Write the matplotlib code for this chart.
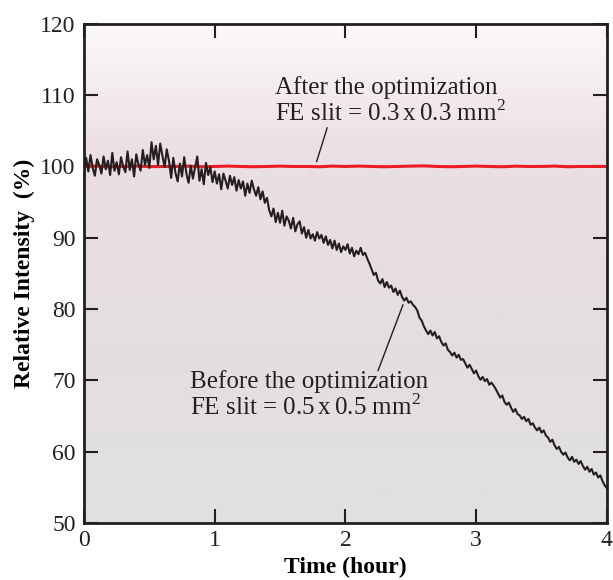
import numpy as np
import matplotlib.pyplot as plt
from matplotlib.colors import LinearSegmentedColormap

# black trace: before the optimization, one value per minute
before_vals = [
    98.4, 101.2, 99.3, 101.6, 99.8, 98.7, 101.0, 100.2, 99.0, 101.4,
    99.6, 100.8, 98.8, 101.9, 99.4, 100.6, 98.9, 101.3, 100.0, 99.2,
    102.1, 99.5, 101.0, 98.6, 101.7, 100.3, 99.4, 102.3, 100.2, 101.6,
    99.8, 103.4, 101.0, 102.9, 100.2, 103.2, 101.5, 99.9, 102.4, 100.8,
    98.4, 101.2, 99.1, 97.9, 100.4, 98.6, 101.3, 99.0, 97.7, 100.1,
    98.3, 99.9, 101.4, 98.0, 99.6, 97.5, 100.5, 98.8, 99.9, 97.8,
    99.3, 97.6, 98.9, 96.8, 99.0, 98.0, 96.9, 98.7, 97.4, 98.5,
    96.6, 98.1, 96.9, 97.9, 95.9, 97.6, 96.3, 98.0, 96.8, 95.9,
    97.1, 95.4, 96.5, 94.9, 95.6, 93.9, 93.0, 94.1, 92.2, 93.5,
    92.1, 93.8, 91.7, 93.0, 92.4, 91.3, 92.8, 90.9, 91.9, 92.3,
    90.6, 91.5, 90.0, 91.1, 89.9, 90.5, 89.6, 90.8, 89.9, 90.4,
    89.3, 90.2, 89.0, 89.7, 88.5, 89.6, 88.3, 89.2, 88.0, 88.8,
    88.3, 89.1, 87.8, 88.6, 87.4, 88.2, 87.7, 88.6, 87.6, 87.9,
    87.1, 86.4, 85.6, 84.8, 85.1, 84.0, 83.6, 84.2, 83.1, 83.8,
    83.0, 83.3, 82.4, 82.9, 82.0, 82.6, 81.7, 81.2, 81.6, 80.9,
    81.1, 80.6, 80.3, 79.8, 78.8, 78.4, 77.6, 77.0, 76.5, 77.0,
    76.3, 76.8, 75.9, 76.2, 75.4, 74.9, 75.2, 74.3, 74.0, 73.5,
    73.9, 73.2, 73.6, 72.9, 73.0, 72.4, 71.8, 72.2, 71.6, 71.0,
    71.4, 70.6, 70.1, 70.5, 69.9, 70.2, 69.4, 69.7, 69.3, 68.8,
    68.2, 67.6, 67.9, 67.0, 66.6, 66.9, 66.2, 65.6, 66.0, 65.3,
    65.1, 64.6, 64.9, 64.3, 64.6, 63.8, 64.0, 63.4, 63.0, 63.4,
    62.7, 63.0, 62.3, 62.0, 61.4, 61.7, 60.9, 60.4, 60.7, 60.0,
    59.6, 59.9, 59.2, 58.8, 59.3, 58.6, 58.9, 58.3, 58.7, 58.0,
    57.5, 57.9, 57.2, 57.6, 56.8, 57.1, 56.4, 56.7, 55.9, 55.3,
    54.9,
]
# red trace: after the optimization (every 0.1 h)
after_vals = [
    100.0, 100.05, 99.95, 100.0, 100.05, 99.97, 100.0, 100.0, 100.04, 99.96,
    100.0, 100.05, 100.0, 99.96, 100.0, 100.04, 100.0, 100.0, 99.96, 100.05,
    100.0, 100.05, 100.0, 99.96, 100.0, 100.05, 100.08, 100.0, 99.96, 100.0,
    100.05, 100.0, 99.96, 100.04, 100.0, 100.0, 100.05, 99.96, 100.0, 100.0, 100.0,
]
t_before = np.linspace(0, 4, len(before_vals))
t_after = np.linspace(0, 4, len(after_vals))

x_ticks = [0, 1, 2, 3, 4]
y_ticks = [50, 60, 70, 80, 90, 100, 110, 120]

plt.rcParams['font.family'] = ['Liberation Serif', 'DejaVu Serif']
plt.rcParams['mathtext.fontset'] = 'custom'
plt.rcParams['mathtext.rm'] = 'Liberation Serif'

fig = plt.figure(figsize=(6.13, 5.8), dpi=100)
ax = fig.add_axes([0.137, 0.098, 0.853, 0.861])

# background gradient, top to bottom
bg = LinearSegmentedColormap.from_list(
    'bg', [(0.0, '#e0e0e1'), (0.45, '#e5dde1'), (0.75, '#ecdfe6'), (1.0, '#fbf9fa')])
grad = np.linspace(0, 1, 256).reshape(-1, 1)
ax.imshow(grad, cmap=bg, aspect='auto', origin='lower',
          extent=[0, 4, 50, 120], zorder=0)

ax.plot(t_after, after_vals, color='#ec1c24', lw=2.2, zorder=2)
ax.plot(t_before, before_vals, color='#231f20', lw=1.5, zorder=3)

ax.set_xlim(0, 4)
ax.set_ylim(50, 120)
ax.set_xticks(x_ticks)
ax.set_yticks(y_ticks)
ax.tick_params(direction='in', length=10, width=1.5, labelsize=17,
               top=True, right=True, colors='#231f20')
ax.tick_params(axis='y', pad=6)
ax.tick_params(axis='x', pad=5)
for s in ax.spines.values():
    s.set_linewidth(2)
    s.set_color('#231f20')

ax.set_xlabel('Time (hour)', fontsize=17, fontweight='bold', labelpad=4)
ax.set_ylabel('Relative Intensity  (%)', fontsize=17, fontweight='bold', labelpad=4)

ax.text(1.46, 109.2, 'After the optimization\nFE slit = 0.3$\\,$x$\\,$0.3 mm$^2$',
        fontsize=18, linespacing=1.05, va='center', ha='left', color='#231f20')
ax.plot([1.78, 1.86], [100.7, 105.4], color='#231f20', lw=1)

ax.text(0.81, 68.0, 'Before the optimization\nFE slit = 0.5$\\,$x$\\,$0.5 mm$^2$',
        fontsize=18, linespacing=1.05, va='center', ha='left', color='#231f20')
ax.plot([2.25, 2.44], [71.4, 80.6], color='#231f20', lw=1)

fig.savefig('out.png', dpi=100)
